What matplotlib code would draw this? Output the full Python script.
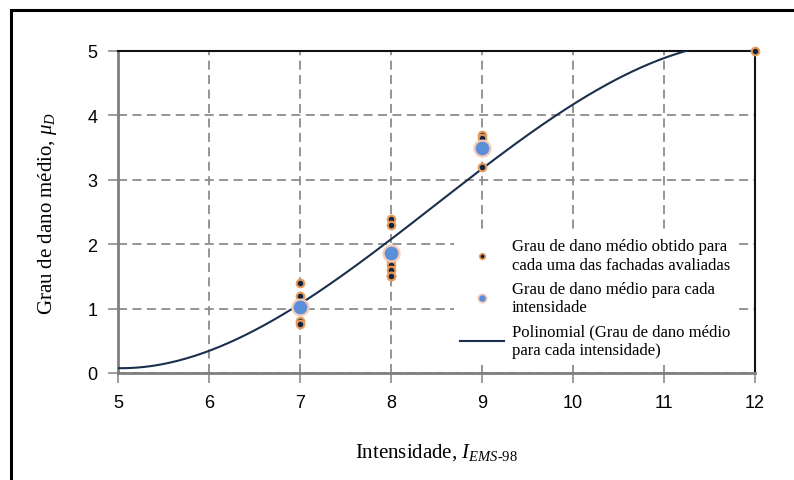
import matplotlib
matplotlib.use("Agg")
import matplotlib.pyplot as plt
from matplotlib.patches import Rectangle
from matplotlib.lines import Line2D
import numpy as np

# individual facades (intensity, mean damage grade)
facade_x = [7, 7, 7, 7, 8, 8, 8, 8, 8, 8, 8, 9, 9, 9, 12]
facade_y = [1.4, 1.2, 0.8, 0.76, 2.39, 2.3, 1.75, 1.68, 1.6, 1.51, 1.5, 3.7, 3.65, 3.2, 5.0]

# mean per intensity
mean_x = [7, 8, 9]
mean_y = [1.03, 1.87, 3.5]

# polynomial trendline
trend_x = [5, 6, 7, 8, 9, 10, 11, 11.3]
trend_y = [0.04, 0.43, 1.05, 2.0, 3.2, 4.2, 4.9, 5.0]

x_ticks = [5, 6, 7, 8, 9, 10, 11, 12]
y_ticks = [0, 1, 2, 3, 4, 5]

serif = "Liberation Serif"
sans = "Liberation Sans"
plt.rcParams["mathtext.fontset"] = "custom"
plt.rcParams["mathtext.rm"] = serif
plt.rcParams["mathtext.it"] = serif + ":italic"

W, H = 794, 481
fig = plt.figure(figsize=(W / 100, H / 100), dpi=100)
ax = fig.add_axes([118 / W, 1 - 374 / H, (755 - 118) / W, (374 - 52) / H])

coef = np.polyfit(trend_x, trend_y, 3)
xs = np.linspace(5, 12, 300)
ax.plot(xs, np.polyval(coef, xs), color="#1c2e4e", lw=1.5, zorder=3)

ax.scatter(mean_x, mean_y, s=130, color="#5b8fd9", edgecolors="#f7cdb8",
           linewidths=1.5, zorder=4)
ax.scatter(facade_x, facade_y, s=30, color="#14233f", edgecolors="#e89a5a",
           linewidths=1.5, zorder=5, clip_on=False)
# keep the blue means above the hidden facade dots
ax.scatter(mean_x, mean_y, s=130, color="#5b8fd9", edgecolors="#f7cdb8",
           linewidths=1.5, zorder=6)

ax.set_xlim(5, 12)
ax.set_ylim(0, 5)
ax.set_xticks(x_ticks)
ax.set_yticks(y_ticks)
ax.grid(True, color="#8c8c8c", ls=(0, (5, 3)), lw=1.3)
ax.set_axisbelow(True)

for s in ["bottom", "left"]:
    ax.spines[s].set_color("#7f7f7f")
    ax.spines[s].set_linewidth(2)
for s in ["top", "right"]:
    ax.spines[s].set_color("#111111")
    ax.spines[s].set_linewidth(1.5)

ax.tick_params(direction="out", length=7, width=1.2, color="#8c8c8c",
               labelsize=13, pad=8)
for lab in ax.get_xticklabels() + ax.get_yticklabels():
    lab.set_fontfamily(sans)

ax.set_xlabel(r"Intensidade, $I_{EMS\text{-}98}$", fontsize=15, family=serif, labelpad=22)
ax.set_ylabel(r"Grau de dano médio, $\mu_D$", fontsize=15, family=serif, labelpad=20)

handles = [
    Line2D([], [], ls="none", marker="o", ms=4, mfc="#14233f", mec="#e89a5a", mew=1.2),
    Line2D([], [], ls="none", marker="o", ms=6, mfc="#5b8fd9", mec="#f7cdb8", mew=1.2),
    Line2D([], [], color="#1c2e4e", lw=1.5),
]
labels = [
    "Grau de dano médio obtido para\ncada uma das fachadas avaliadas",
    "Grau de dano médio para cada\nintensidade",
    "Polinomial (Grau de dano médio\npara cada intensidade)",
]
leg = ax.legend(handles, labels, loc="lower right", bbox_to_anchor=(0.985, 0.0),
                prop={"family": serif, "size": 12}, frameon=True, framealpha=1,
                edgecolor="none", fancybox=False, handlelength=2.6,
                labelspacing=0.5, borderpad=0.4, handletextpad=0.5)

# outer frame (cut off at right and bottom)
fig.patches.append(Rectangle((11 / W, -0.05), 1.2, 1 - 11 / H + 0.05, transform=fig.transFigure,
                             fill=False, ec="black", lw=2.2))

fig.savefig("out.png", dpi=100)
